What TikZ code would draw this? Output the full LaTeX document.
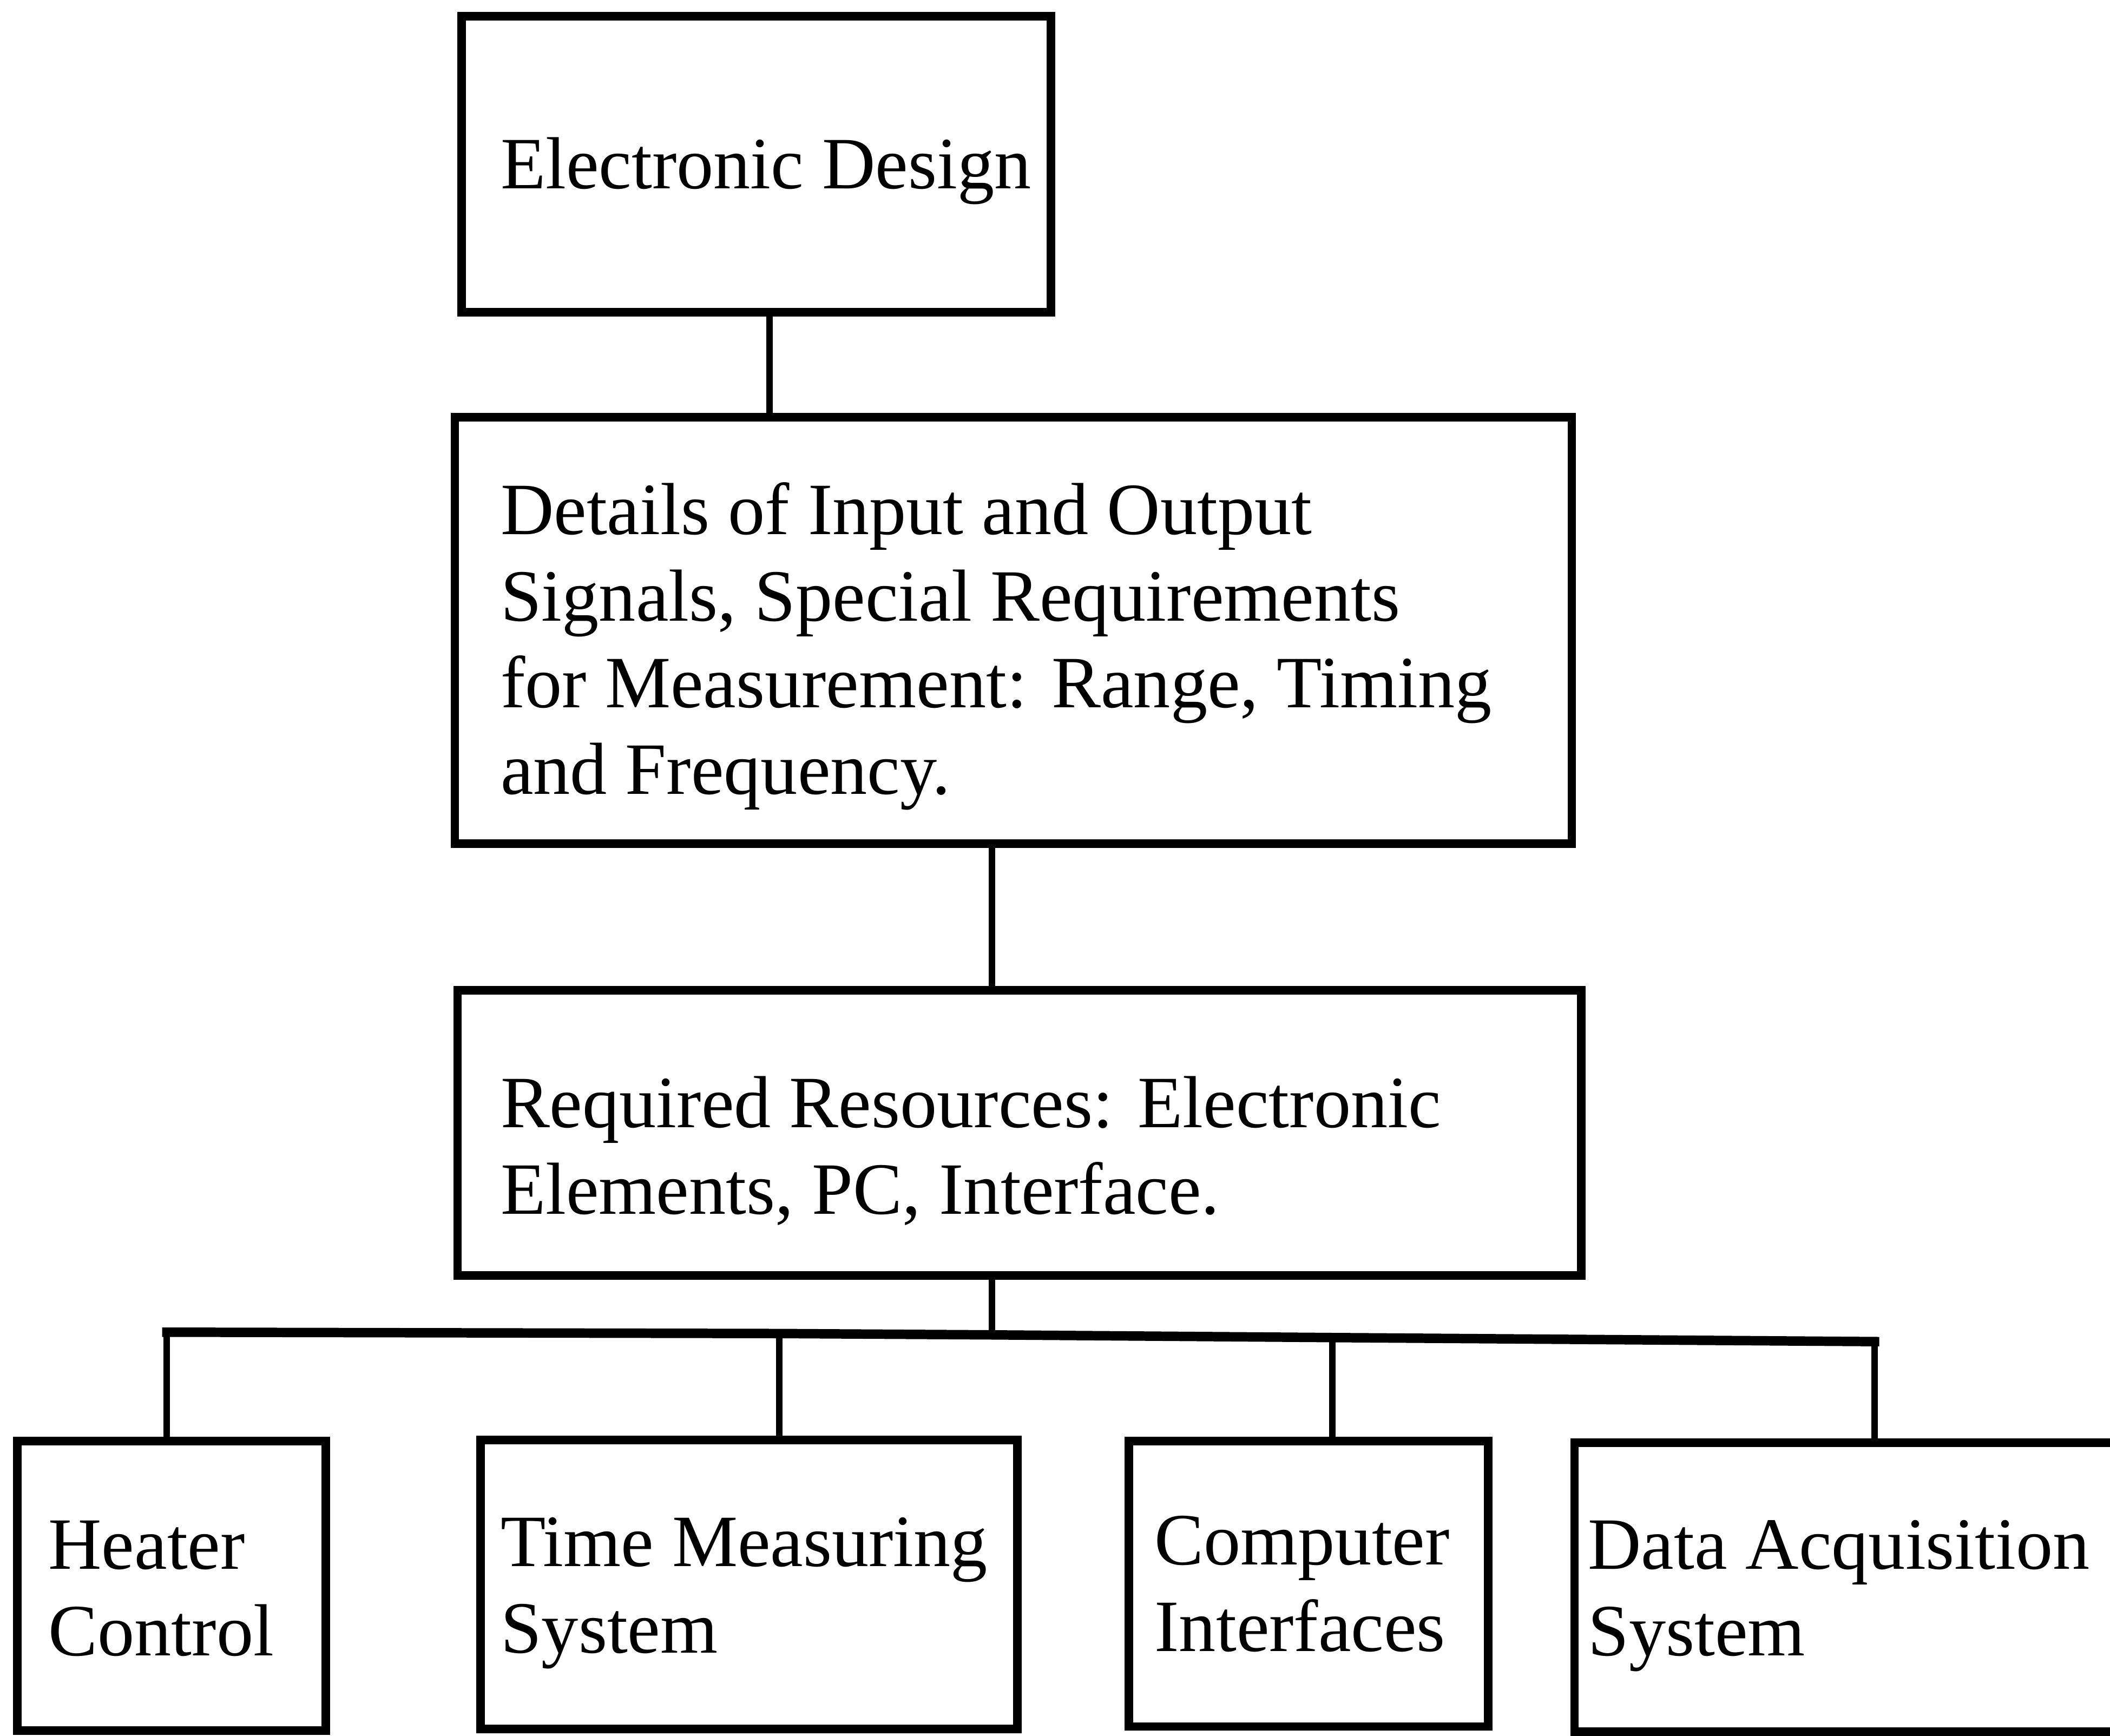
\documentclass[tikz,border=0pt]{standalone}
\usepackage{fontspec}
\setmainfont{Liberation Serif}
\begin{document}
\begin{tikzpicture}[
  x=1cm, y=1cm,
  blk/.style={draw=black, line width=1.8pt, inner sep=0pt, outer sep=0pt, fill=none},
  lbl/.style={anchor=base west, inner sep=0pt, outer sep=0pt,
              font=\fontsize{15.6}{18.3}\selectfont},
  conn/.style={line width=1.4pt},
  busline/.style={line width=2pt, line cap=rect}
]
\useasboundingbox (0,0) rectangle (15.68,-12.90);

% boxes (centre, width, height)
\node[blk, minimum width=4.38cm, minimum height=2.20cm] (ed)   at (5.62,-1.22) {};
\node[blk, minimum width=8.30cm, minimum height=3.17cm] (det)  at (7.53,-4.685) {};
\node[blk, minimum width=8.35cm, minimum height=2.12cm] (req)  at (7.575,-8.42) {};
\node[blk, minimum width=2.29cm, minimum height=2.15cm] (heat) at (1.275,-11.785) {};
\node[blk, minimum width=3.99cm, minimum height=2.15cm] (time) at (5.565,-11.775) {};
\node[blk, minimum width=2.67cm, minimum height=2.12cm] (comp) at (9.725,-11.77) {};
% the last box runs off the right margin
\node[blk, minimum width=5.40cm, minimum height=2.15cm] (daq)  at (14.40,-11.795) {};

% box texts
\node[lbl] (edt)   at (3.72,-1.40) {Electronic Design};
\node[lbl] (dett)  at (3.72,-3.97) {\begin{tabular}[t]{@{}l@{}}Details of Input and Output\\
  Signals, Special Requirements\\ for Measurement: Range, Timing\\ and Frequency.\end{tabular}};
\node[lbl] (reqt)  at (3.72,-8.38) {\begin{tabular}[t]{@{}l@{}}Required Resources: Electronic\\
  Elements, PC, Interface.\end{tabular}};
\node[lbl] (heatt) at (0.36,-11.66) {\begin{tabular}[t]{@{}l@{}}Heater\\ Control\end{tabular}};
\node[lbl] (timet) at (3.72,-11.64) {\begin{tabular}[t]{@{}l@{}}Time Measuring\\ System\end{tabular}};
\node[lbl] (compt) at (8.58,-11.63) {\begin{tabular}[t]{@{}l@{}}Computer\\ Interfaces\end{tabular}};
\node[lbl] (daqt)  at (11.80,-11.66) {\begin{tabular}[t]{@{}l@{}}Data Acquisition\\ System\end{tabular}};

% connector positions
\coordinate (c1) at (5.72,-2.7);
\coordinate (c2) at (7.37,-6.8);
\coordinate (b1) at (1.24,-9.90);
\coordinate (b2) at (5.79,-9.91);
\coordinate (bm) at (7.37,-9.92);
\coordinate (b3) at (9.90,-9.94);
\coordinate (b4) at (13.93,-9.97);

% vertical links between the stacked boxes
\draw[conn] (ed.south -| c1) -- (det.north -| c1);
\draw[conn] (det.south -| c2) -- (req.north -| c2);
\draw[conn] (req.south -| c2) -- (bm);

% distribution bus and drops
\draw[busline] (b1) -- (b2) -- (bm) -- (b3) -- (b4);
\draw[conn] (b1) -- (b1 |- heat.north);
\draw[conn] (b2) -- (b2 |- time.north);
\draw[conn] (b3) -- (b3 |- comp.north);
\draw[conn] (b4) -- (b4 |- daq.north);
\end{tikzpicture}
\end{document}
